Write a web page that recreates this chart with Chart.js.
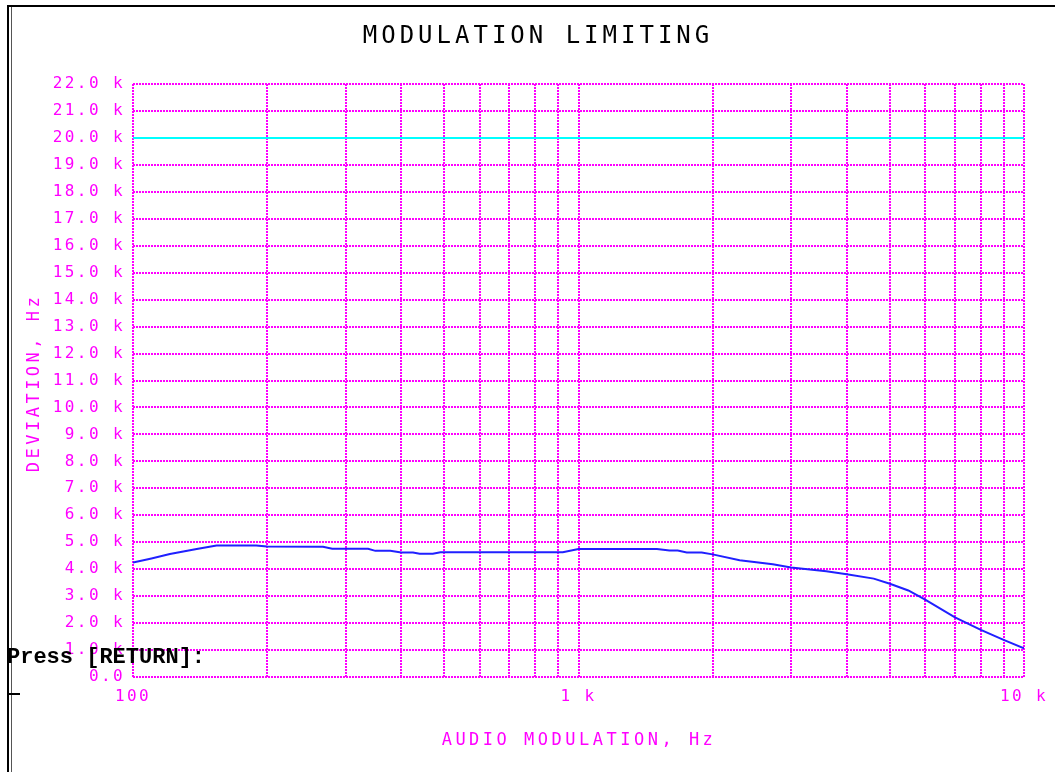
<!DOCTYPE html>
<html>
<head>
<meta charset="utf-8">
<script src="https://cdn.jsdelivr.net/npm/chart.js@4"></script>
<style>
  html, body { margin: 0; padding: 0; background: #fff; }
  #wrap { position: relative; width: 1055px; height: 772px; }
</style>
</head>
<body>
<div id="wrap"><canvas id="modChart" width="1055" height="772"></canvas></div>
<script>
// measured curve, frequency in Hz and deviation in Hz
const freqHz = [100, 110, 121, 139, 154, 189, 200, 267, 280, 337, 350, 378, 400, 425, 440, 471, 490, 922,
  1000, 1500, 1600, 1670, 1750, 1890, 2000, 2300, 2730, 3000, 3600, 4000, 4600, 5000, 5500, 6000, 7000, 8000, 9000, 10000];
const deviationHz = [4250, 4400, 4560, 4750, 4880, 4880, 4840, 4830, 4760, 4760, 4680, 4680, 4620, 4620, 4570, 4570, 4630, 4630,
  4750, 4750, 4690, 4690, 4620, 4620, 4550, 4330, 4180, 4060, 3920, 3810, 3650, 3460, 3210, 2870, 2210, 1750, 1380, 1060];

// limit line
const limitFreq = [100, 10000];
const limitDev = [20000, 20000];

// axis range, grid and labels
const xMin = 100, xMax = 10000;
const xGrid = [100, 200, 300, 400, 500, 600, 700, 800, 900, 1000, 2000, 3000, 4000, 5000, 6000, 7000, 8000, 9000, 10000];
const xLabels = { 100: '100', 1000: '1 k', 10000: '10 k' };
const yMin = 0, yMax = 22000, yStep = 1000;

const MAG = '#ff00ff';

const framePlugin = {
    id: 'frame',
    beforeDraw(chart) {
        chart.ctx.letterSpacing = '2.4px';
    },
    afterDraw(chart) {
        const ctx = chart.ctx;
        ctx.save();
        ctx.letterSpacing = '0px';
        // frame lines
        ctx.fillStyle = '#000';
        ctx.fillRect(7, 5, 1048, 2);
        ctx.fillRect(7, 5, 2, 767);
        ctx.fillStyle = '#555';
        ctx.fillRect(11, 7, 1, 765);
        ctx.fillStyle = '#000';
        ctx.fillRect(7, 693, 13, 2);

        // title
        ctx.fillStyle = '#000';
        ctx.font = '24px "DejaVu Sans Mono"';
        ctx.letterSpacing = '4px';
        ctx.textAlign = 'center';
        ctx.textBaseline = 'middle';
        ctx.fillText('MODULATION LIMITING', 538, 37);

        // axis titles
        ctx.fillStyle = MAG;
        ctx.font = '17px "DejaVu Sans Mono"';
        ctx.letterSpacing = '3.5px';
        ctx.fillText('AUDIO MODULATION, Hz', 579, 741);
        ctx.save();
        ctx.translate(35, 383);
        ctx.rotate(-Math.PI / 2);
        ctx.fillText('DEVIATION, Hz', 0, 0);
        ctx.restore();

        // prompt
        ctx.fillStyle = '#000';
        ctx.font = 'bold 22px "Liberation Mono"';
        ctx.letterSpacing = '0px';
        ctx.textAlign = 'left';
        ctx.textBaseline = 'alphabetic';
        ctx.fillText('Press [RETURN]:', 7, 663);
        ctx.restore();
    }
};

const ctx = document.getElementById('modChart').getContext('2d');
new Chart(ctx, {
    type: 'line',
    data: {
        datasets: [
            {
                label: 'Limit',
                data: limitFreq.map((f, i) => ({ x: f, y: limitDev[i] })),
                borderColor: '#00ffff', borderWidth: 2, pointRadius: 0
            },
            {
                label: 'Deviation',
                data: freqHz.map((f, i) => ({ x: f, y: deviationHz[i] })),
                borderColor: '#2020ff', borderWidth: 2, pointRadius: 0, tension: 0
            }
        ]
    },
    options: {
        responsive: false,
        animation: false,
        layout: { padding: { left: 0, right: 31, top: 84, bottom: 65 } },
        plugins: { legend: { display: false }, tooltip: { enabled: false } },
        scales: {
            x: {
                type: 'logarithmic',
                min: xMin, max: xMax,
                border: { display: false, dash: [2, 1] },
                grid: { color: MAG, lineWidth: 2, drawTicks: false },
                ticks: {
                    autoSkip: false, maxRotation: 0, padding: 10,
                    color: MAG, font: { family: 'DejaVu Sans Mono', size: 16 },
                    callback: v => xLabels[Math.round(v)] || ''
                },
                afterBuildTicks: s => { s.ticks = xGrid.map(v => ({ value: v })); },
                afterFit: s => { s.height = 30; }
            },
            y: {
                min: yMin, max: yMax,
                border: { display: false, dash: [2, 1] },
                grid: { color: MAG, lineWidth: 2, drawTicks: false },
                ticks: {
                    stepSize: yStep, padding: 8,
                    color: MAG, font: { family: 'DejaVu Sans Mono', size: 16 },
                    callback: v => v === 0 ? '0.0' : (v / 1000).toFixed(1) + ' k'
                },
                afterFit: s => { s.width = 133; }
            }
        }
    },
    plugins: [framePlugin]
});
</script>
</body>
</html>
